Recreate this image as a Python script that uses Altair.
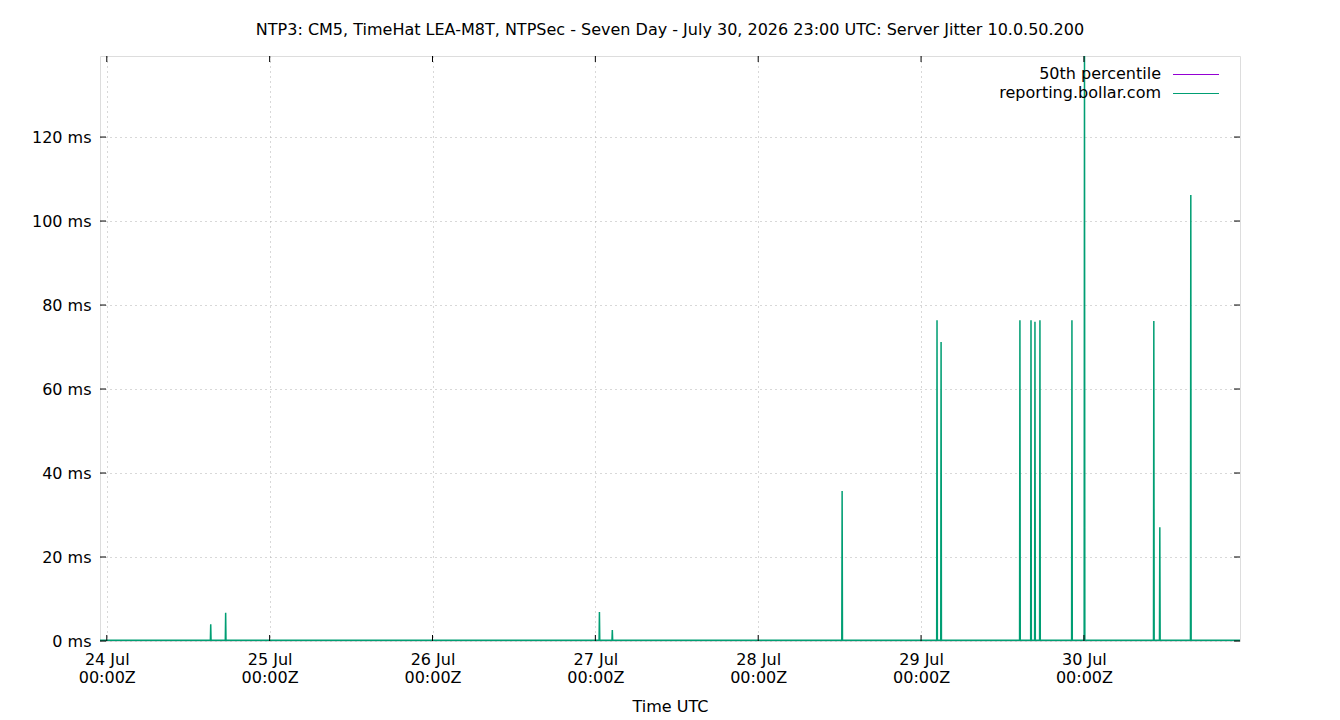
import altair as alt
import pandas as pd

# ---- data ----
title_text = "NTP3: CM5, TimeHat LEA-M8T, NTPSec - Seven Day - July 30, 2026 23:00 UTC: Server Jitter 10.0.50.200"
range_start = "2026-07-23T23:00:00Z"
range_end = "2026-07-30T23:00:00Z"

spike_times = [
    "2026-07-24T15:19:00Z", "2026-07-24T17:31:00Z",
    "2026-07-27T00:36:00Z", "2026-07-27T02:30:00Z",
    "2026-07-28T12:22:00Z",
    "2026-07-29T02:21:00Z", "2026-07-29T02:57:00Z",
    "2026-07-29T14:34:00Z", "2026-07-29T16:12:00Z", "2026-07-29T16:47:00Z",
    "2026-07-29T17:31:00Z", "2026-07-29T22:14:00Z",
    "2026-07-30T00:05:00Z",
    "2026-07-30T10:18:00Z", "2026-07-30T11:11:00Z", "2026-07-30T15:45:00Z",
]
spike_ms = [4.0, 6.7, 6.9, 2.6, 35.7, 76.4, 71.2, 76.4, 76.4, 76.0, 76.4, 76.4,
            139.3, 76.2, 27.1, 106.2]
baseline_ms = 0.2
median_ms = 0.1

day_ticks = ["2026-07-24", "2026-07-25", "2026-07-26", "2026-07-27",
             "2026-07-28", "2026-07-29", "2026-07-30"]
ms_ticks = [0, 20, 40, 60, 80, 100, 120]
y_max = 139.3

legend_labels = ["50th percentile", "reporting.bollar.com"]
colors = ["#9400d3", "#009e73"]

FONT = "DejaVu Sans"
FS = 16
W, H = 1140, 585

# ---- build tables ----
rows = [{"time": range_start, "ms": baseline_ms}]
for t, v in zip(spike_times, spike_ms):
    ts = pd.Timestamp(t)
    rows.append({"time": (ts - pd.Timedelta(minutes=3)).strftime("%Y-%m-%dT%H:%M:%SZ"), "ms": baseline_ms})
    rows.append({"time": t, "ms": v})
    rows.append({"time": (ts + pd.Timedelta(minutes=3)).strftime("%Y-%m-%dT%H:%M:%SZ"), "ms": baseline_ms})
rows.append({"time": range_end, "ms": baseline_ms})
jitter = pd.DataFrame(rows)
median = pd.DataFrame({"time": [range_start, range_end], "ms": [median_ms, median_ms]})
days = pd.DataFrame({"time": [d + "T00:00:00Z" for d in day_ticks]})
mst = pd.DataFrame({"ms": ms_ticks})


def dt(s):
    ts = pd.Timestamp(s)
    return alt.DateTime(year=ts.year, month=ts.month, date=ts.day, hours=ts.hour,
                        minutes=ts.minute, utc=True)


x_scale = alt.Scale(type="utc", domain=[dt(range_start), dt(range_end)])
y_scale = alt.Scale(domain=[0, y_max], nice=False, zero=True)

x_axis = alt.Axis(
    values=[dt(d) for d in day_ticks],
    labelExpr="[utcFormat(datum.value, '%d %b'), '00:00Z']",
    grid=True, gridDash=[1, 4], gridColor="#b0b0b0", gridWidth=1,
    ticks=False, domain=False, labelFlush=False, labelOverlap=False,
    labelFont=FONT, labelFontSize=FS, labelColor="black", labelPadding=10,
    labelLineHeight=18, title="Time UTC", titleFont=FONT, titleFontSize=FS,
    titleFontWeight="normal", titleColor="black", titlePadding=13,
)
y_axis = alt.Axis(
    values=ms_ticks, labelExpr="datum.value + ' ms'",
    grid=True, gridDash=[1, 4], gridColor="#b0b0b0", gridWidth=1,
    ticks=False, domain=False, labelFont=FONT, labelFontSize=FS,
    labelColor="black", labelPadding=9, title=None,
)

X = alt.X("time:T", scale=x_scale, axis=x_axis)
Y = alt.Y("ms:Q", scale=y_scale, axis=y_axis)

med_line = alt.Chart(median).mark_line(color=colors[0], strokeWidth=1, clip=True).encode(x=X, y=Y)
jit_line = alt.Chart(jitter).mark_line(color=colors[1], strokeWidth=1.5, clip=True,
                                       interpolate="linear").encode(x=X, y=Y)

tick_len = 6
xt_bottom = alt.Chart(days).mark_rule(color="black", strokeWidth=1).encode(
    x=X, y=alt.value(H), y2=alt.value(H - tick_len))
xt_top = alt.Chart(days).mark_rule(color="black", strokeWidth=1).encode(
    x=X, y=alt.value(0), y2=alt.value(tick_len))
yt_left = alt.Chart(mst).mark_rule(color="black", strokeWidth=1).encode(
    y=Y, x=alt.value(0), x2=alt.value(tick_len))
yt_right = alt.Chart(mst).mark_rule(color="black", strokeWidth=1).encode(
    y=Y, x=alt.value(W), x2=alt.value(W - tick_len))

legend_layers = []
for i, (lab, col) in enumerate(zip(legend_labels, colors)):
    ly = 18 + i * 19
    ldf = pd.DataFrame({"label": [lab]})
    legend_layers.append(
        alt.Chart(ldf).mark_text(align="right", baseline="middle", font=FONT,
                                 fontSize=FS, color="black").encode(
            text="label:N", x=alt.value(1061), y=alt.value(ly)))
    legend_layers.append(
        alt.Chart(ldf).mark_rule(color=col, strokeWidth=1).encode(
            x=alt.value(1073), x2=alt.value(1119), y=alt.value(ly + 0.5)))

chart = alt.layer(
    med_line, jit_line, xt_bottom, xt_top, yt_left, yt_right, *legend_layers
).properties(
    width=W, height=H,
    title=alt.TitleParams(title_text, font=FONT, fontSize=FS, fontWeight="normal",
                          color="black", anchor="middle", offset=18),
    autosize=alt.AutoSizeParams(type="none"),
    padding={"left": 100, "top": 56, "right": 100, "bottom": 79},
).configure_view(stroke="black", strokeWidth=1).configure(background="white")

chart.save("out.html", embed_options={"renderer": "svg", "actions": False})
